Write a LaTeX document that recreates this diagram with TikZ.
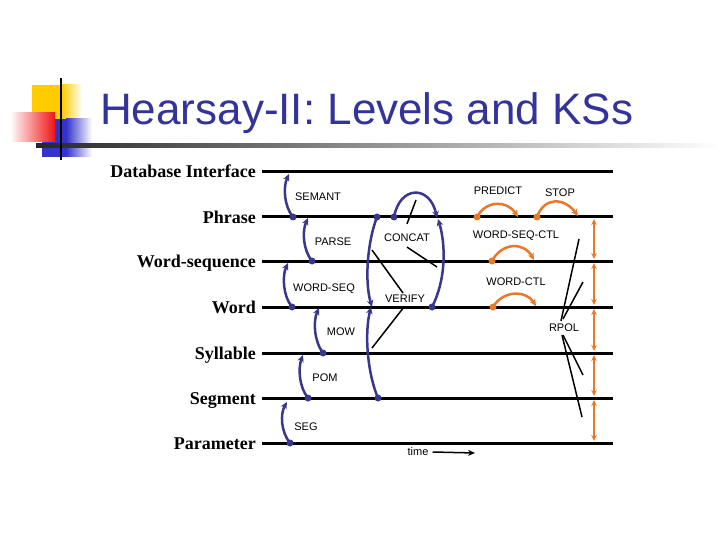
\documentclass[tikz,border=0pt]{standalone}
\usepackage{fontspec}
\setmainfont{Liberation Serif}
\setsansfont{Liberation Sans}
\usetikzlibrary{positioning,arrows,arrows.meta}

\definecolor{titleblue}{RGB}{51,51,153}
\definecolor{ksblue}{RGB}{55,55,140}
\definecolor{ksorange}{RGB}{235,120,40}
\definecolor{logoyellow}{RGB}{255,204,0}
\definecolor{logored}{RGB}{240,20,20}
\definecolor{logoblue}{RGB}{51,51,204}

\begin{document}
\begin{tikzpicture}[x=1pt,y=-1pt]
            \tikzstyle{level} = [anchor=base east, inner sep=0pt, font=\fontsize{18}{20}\selectfont\bfseries]
            \tikzstyle{levelline} = [line width=3pt]
            \tikzstyle{ks} = [inner sep=0pt, font=\fontsize{11}{13}\selectfont\sffamily]
            \tikzstyle{bluearc} = [line width=2.5pt, draw=ksblue, -{Stealth[length=7pt,width=6.5pt]}]
            \tikzstyle{orangearc} = [line width=2.5pt, draw=ksorange, -{Stealth[length=7pt,width=6.5pt]}]
            \tikzstyle{span} = [line width=1.8pt, draw=ksorange, {Stealth[length=6pt,width=5.5pt]}-{Stealth[length=6pt,width=5.5pt]}]
            \tikzstyle{pointer} = [line width=1.5pt]

            \useasboundingbox (0,0) rectangle (720,540);

            % Logo and title
            \fill[logoyellow] (32,85) rectangle (62,121);
            \shade[left color=logoyellow, right color=white] (62,85) rectangle (82,121);
            \fill[logoblue] (42,119) rectangle (66,157);
            \shade[left color=logoblue, right color=white] (66,119) rectangle (92,157);
            \shade[left color=white, right color=logored] (10,113) rectangle (55,142);
            \shade[left color=black!85, right color=white] (36,144) rectangle (720,148);
            \draw[line width=2pt] (61,78) -- (61,160);
            \node (title) [anchor=base west, inner sep=0pt, text=titleblue, font=\fontsize{44}{48}\selectfont\sffamily] at (100,125) {Hearsay-II: Levels and KSs};

            % Levels
            \foreach \lv/\txt/\y in {db/Database Interface/172, phrase/Phrase/217, wseq/Word-sequence/261, word/Word/307, syll/Syllable/353, seg/Segment/398, param/Parameter/443} {
                \node (\lv) [level] at (256,\y+6) {\txt};
                \coordinate (\lv L) at (262,\y);
                \coordinate (\lv R) at (613,\y);
                \draw[levelline] (\lv L) -- (\lv R);
            }

            % KS labels
            \node (semant) [ks] at (318,197) {SEMANT};
            \node (parse) [ks] at (333,242) {PARSE};
            \node (concat) [ks] at (407,238) {CONCAT};
            \node (wordseq) [ks] at (324,289) {WORD-SEQ};
            \node (verify) [ks] at (405,299) {VERIFY};
            \node (mow) [ks] at (341,332) {MOW};
            \node (pom) [ks] at (325,378) {POM};
            \node (segks) [ks] at (306,427) {SEG};
            \node (predict) [ks] at (498,191) {PREDICT};
            \node (stop) [ks] at (560,193) {STOP};
            \node (wseqctl) [ks] at (516,236) {WORD-SEQ-CTL};
            \node (wordctl) [ks] at (516,282) {WORD-CTL};
            \node (rpol) [ks] at (564,328) {RPOL};
            \node (time) [ks] at (418,452) {time};

            % Arc ends
            \coordinate (semantA) at (293,217);  \coordinate (semantB) at (289,174);
            \coordinate (parseA) at (312,261);   \coordinate (parseB) at (308,218);
            \coordinate (wordseqA) at (292,307); \coordinate (wordseqB) at (288,263);
            \coordinate (mowA) at (323,353);     \coordinate (mowB) at (319,308);
            \coordinate (pomA) at (308,398);     \coordinate (pomB) at (303,355);
            \coordinate (segA) at (290,443);     \coordinate (segB) at (287,402);
            \coordinate (verifyA) at (377,217);  \coordinate (verifyB) at (372,307);
            \coordinate (verifyC) at (378,398);  \coordinate (verifyD) at (371,307);
            \coordinate (concatA) at (394,217);  \coordinate (concatB) at (437,218);
            \coordinate (concatC) at (432,307);  \coordinate (concatD) at (438,219);
            \coordinate (predictA) at (477,217); \coordinate (predictB) at (518,217);
            \coordinate (stopA) at (537,217);    \coordinate (stopB) at (578,216);
            \coordinate (wseqctlA) at (492,261); \coordinate (wseqctlB) at (534,260);
            \coordinate (wordctlA) at (493,307); \coordinate (wordctlB) at (536,306);

            % Blue arcs
            \draw[bluearc] (semantA) .. controls (284,206) and (283,187) .. (semantB);
            \draw[bluearc] (parseA) .. controls (303,250) and (302,231) .. (parseB);
            \draw[bluearc] (wordseqA) .. controls (283,296) and (282,276) .. (wordseqB);
            \draw[bluearc] (mowA) .. controls (314,341) and (313,321) .. (mowB);
            \draw[bluearc] (pomA) .. controls (299,387) and (298,368) .. (pomB);
            \draw[bluearc] (segA) .. controls (281,432) and (280,414) .. (segB);
            \draw[bluearc] (verifyA) .. controls (368,240) and (364,280) .. (verifyB);
            \draw[bluearc] (verifyC) .. controls (368,375) and (364,335) .. (verifyD);
            \draw[bluearc] (concatA) .. controls (400,185) and (430,185) .. (concatB);
            \draw[bluearc] (concatC) .. controls (446,280) and (446,245) .. (concatD);
            \foreach \p in {semantA, parseA, wordseqA, mowA, pomA, segA, verifyA, verifyC, concatA, concatC}
                \fill[ksblue] (\p) circle (3.5);

            % Orange arcs
            \draw[orangearc] (predictA) .. controls (486,200) and (507,200) .. (predictB);
            \draw[orangearc] (stopA) .. controls (544,197) and (564,197) .. (stopB);
            \draw[orangearc] (wseqctlA) .. controls (502,242) and (524,242) .. (wseqctlB);
            \draw[orangearc] (wordctlA) .. controls (503,290) and (526,290) .. (wordctlB);
            \foreach \p in {predictA, stopA, wseqctlA, wordctlA}
                \fill[ksorange] (\p) circle (3.5);

            % Spans between levels
            \foreach \a/\b in {phrase/wseq, wseq/word, word/syll, syll/seg, seg/param}
                \draw[span] ([shift={(-19,2)}]\a R) -- ([shift={(-19,-2)}]\b R);

            % Pointers
            \coordinate (cp1) at (416,200); \coordinate (cp2) at (437,267);
            \draw[pointer] ([shift={(0,-10)}]concat.north) -- (cp1);
            \draw[pointer] ([shift={(0,5)}]concat.south) -- (cp2);
            \coordinate (vp1) at (372,250); \coordinate (vp2) at (372,348);
            \draw[pointer] ([shift={(-2,-2)}]verify.north) -- (vp1);
            \draw[pointer] ([shift={(-1,4)}]verify.south) -- (vp2);
            \coordinate (rp1) at (579,239); \coordinate (rp2) at (583,282);
            \coordinate (rp3) at (583,375); \coordinate (rp4) at (582,417);
            \draw[pointer] ([shift={(-3,-3)}]rpol.north) -- (rp1);
            \draw[pointer] ([shift={(-1,-5)}]rpol.north) -- (rp2);
            \draw[pointer] ([shift={(-1,3)}]rpol.south) -- (rp3);
            \draw[pointer] ([shift={(-2,3)}]rpol.south) -- (rp4);

            % Time
            \coordinate (timeB) at (475,453);
            \draw[line width=1.5pt, -{Stealth[length=7pt,width=6pt]}] ([xshift=4pt]time.east) -- (timeB);
        \end{tikzpicture}
\end{document}
